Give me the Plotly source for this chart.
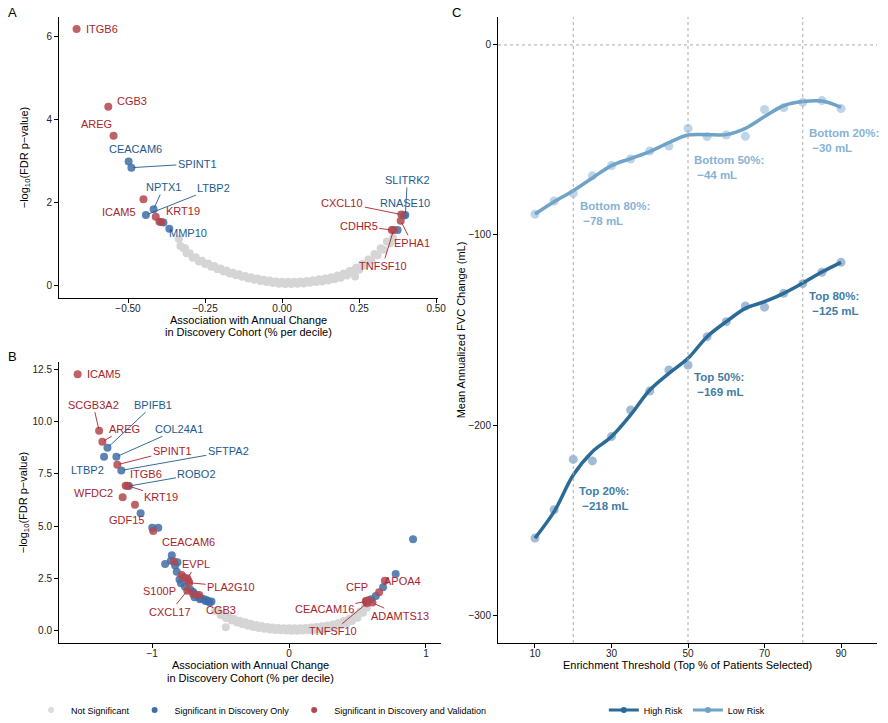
import plotly.graph_objects as go

FONT = "Liberation Sans, Arial, sans-serif"
RED_PT, BLUE_PT, GREY_PT = "#B2474F", "#3E6FA8", "#D5D5D5"
RED_TXT, BLUE_TXT = "#A8242C", "#1E5A8E"

# ---------------- Panel A data ----------------
a_grey_x = [-0.335, -0.33, -0.315, -0.31, -0.29, -0.27, -0.25, -0.23, -0.21, -0.19, -0.17,
            -0.15, -0.13, -0.11, -0.09, -0.07, -0.05, -0.03, -0.01, 0.01, 0.03, 0.05,
            0.07, 0.09, 0.11, 0.13, 0.15, 0.17, 0.19, 0.21, 0.23, 0.25, 0.27, 0.29,
            0.31, 0.33, 0.35, 0.36, 0.237,
            -0.32, -0.30, -0.28, -0.26, -0.24, -0.22, -0.20, -0.18, -0.16, -0.14, -0.12,
            -0.10, -0.08, -0.06, -0.04, -0.02, 0.0, 0.02, 0.04, 0.06, 0.08, 0.10,
            0.12, 0.14, 0.16, 0.18, 0.20, 0.22, 0.24, 0.26, 0.28, 0.30, 0.32, 0.34]
a_grey_y = [1.12, 0.95, 0.90, 0.78, 0.67, 0.58, 0.52, 0.45, 0.39, 0.34, 0.29,
            0.25, 0.21, 0.17, 0.14, 0.11, 0.085, 0.06, 0.045, 0.04, 0.04, 0.045,
            0.05, 0.07, 0.085, 0.10, 0.12, 0.15, 0.19, 0.24, 0.30, 0.38, 0.48, 0.60,
            0.73, 0.86, 1.02, 1.15, 0.22,
            0.90, 0.78, 0.68, 0.60, 0.53, 0.47, 0.41, 0.36, 0.31, 0.27, 0.23,
            0.20, 0.17, 0.14, 0.12, 0.10, 0.09, 0.09, 0.09, 0.10, 0.11, 0.13,
            0.15, 0.17, 0.20, 0.24, 0.29, 0.35, 0.43, 0.52, 0.63, 0.76, 0.90, 1.06]

a_gene = ["ITGB6", "CGB3", "AREG", "CEACAM6", "SPINT1", "ICAM5", "LTBP2", "NPTX1",
          "KRT19", "MMP10", "CXCL10", "SLITRK2", "RNASE10", "EPHA1", "CDHR5", "TNFSF10"]
a_gene_x = [-0.667, -0.564, -0.547, -0.498, -0.489, -0.450, -0.442, -0.417,
            -0.410, -0.366, 0.387, 0.400, 0.395, 0.385, 0.356, 0.362]
a_gene_y = [6.18, 4.31, 3.61, 2.99, 2.84, 2.08, 1.70, 1.84,
            1.66, 1.37, 1.71, 1.70, 1.69, 1.56, 1.34, 1.34]
a_gene_grp = ["val", "val", "val", "disc", "disc", "val", "disc", "disc",
              "val", "disc", "val", "disc", "disc", "val", "val", "val"]
a_other_x = [-0.398, -0.392, -0.385, 0.375]
a_other_y = [1.54, 1.53, 1.52, 1.34]
a_other_grp = ["val", "val", "disc", "disc"]

# ---------------- Panel B data ----------------
b_grey_x = [-0.54, -0.50, -0.46, -0.42, -0.38, -0.34, -0.30, -0.26, -0.22, -0.18, -0.14,
            -0.10, -0.06, -0.02, 0.02, 0.06, 0.10, 0.14, 0.18, 0.22, 0.26, 0.30, 0.34,
            0.38, 0.42, 0.46, 0.50, 0.54, 0.57, -0.462,
            -0.52, -0.48, -0.44, -0.40, -0.36, -0.32, -0.28, -0.24, -0.20, -0.16, -0.12,
            -0.08, -0.04, 0.0, 0.04, 0.08, 0.12, 0.16, 0.20, 0.24, 0.28, 0.32, 0.36,
            0.40, 0.44, 0.48, 0.52, 0.555]
b_grey_y = [0.95, 0.75, 0.60, 0.48, 0.39, 0.31, 0.24, 0.18, 0.13, 0.09, 0.06,
            0.03, 0.02, 0.01, 0.0, 0.0, 0.01, 0.02, 0.04, 0.06, 0.09, 0.13, 0.18,
            0.25, 0.34, 0.46, 0.62, 0.85, 1.10, 0.16,
            0.98, 0.80, 0.66, 0.56, 0.47, 0.40, 0.33, 0.27, 0.22, 0.18, 0.15,
            0.13, 0.12, 0.11, 0.11, 0.12, 0.13, 0.15, 0.18, 0.21, 0.25, 0.30, 0.37,
            0.46, 0.57, 0.72, 0.92, 1.15]

b_gene = ["ICAM5", "SCGB3A2", "AREG", "BPIFB1", "LTBP2", "COL24A1", "SPINT1", "SFTPA2",
          "ITGB6", "ROBO2", "KRT19", "WFDC2", "GDF15", "CEACAM6", "EVPL", "PLA2G10",
          "S100P", "CXCL17", "CGB3", "CFP", "CEACAM16", "ADAMTS13", "TNFSF10", "APOA4"]
b_gene_x = [-1.544, -1.387, -1.363, -1.326, -1.351, -1.261, -1.254, -1.225,
            -1.193, -1.169, -1.180, -1.215, -0.992, -0.840, -0.743, -0.729,
            -0.784, -0.743, -0.656, 0.561, 0.565, 0.609, 0.569, 0.700]
b_gene_y = [12.25, 9.56, 9.03, 8.74, 8.31, 8.31, 7.93, 7.66,
            6.93, 6.91, 6.93, 6.37, 4.76, 3.30, 2.50, 2.29,
            2.66, 1.91, 1.71, 1.42, 1.40, 1.34, 1.31, 2.39]
b_gene_grp = ["val", "val", "val", "disc", "disc", "disc", "val", "disc",
              "val", "disc", "val", "val", "val", "val", "val", "val",
              "val", "val", "val", "val", "val", "val", "val", "val"]
b_other_x = [-1.084, -0.999, -0.955, 0.906, -0.856, -0.863, -0.815, -0.905, -0.832,
             -0.820, -0.789, -0.800, -0.760, -0.720, -0.700, -0.680, -0.660, -0.640,
             -0.620, -0.600, -0.590, -0.580, -0.610, -0.650, -0.690, -0.566,
             0.634, 0.687, 0.779, 0.600,
             -1.125, -0.735, -0.700, -0.770, 0.658, 0.580]
b_other_y = [5.61, 4.92, 4.92, 4.37, 3.60, 3.34, 3.27, 3.19, 3.11,
             2.82, 2.26, 2.45, 2.10, 1.95, 1.85, 1.72, 1.62, 1.55,
             1.50, 1.45, 1.40, 1.35, 1.42, 1.50, 1.60, 1.39,
             1.66, 2.07, 2.71, 1.50,
             6.02, 2.39, 1.75, 2.55, 1.83, 1.45]
b_other_grp = ["disc"] * 30 + ["val"] * 6

# ---------------- Panel C data ----------------
threshold = [10, 15, 20, 25, 30, 35, 40, 45, 50, 55, 60, 65, 70, 75, 80, 85, 90]
high_mean = [-259.5, -244.6, -218.1, -218.9, -206.1, -192.1, -182.1, -171.0, -168.4,
             -153.5, -145.6, -137.4, -138.0, -130.7, -125.6, -119.6, -114.4]
high_fit = [-259.5, -245.6, -226.3, -214.0, -206.1, -194.7, -181.6, -172.8, -164.9,
            -153.5, -145.6, -138.6, -135.1, -130.7, -125.3, -119.5, -114.4]
low_mean = [-89.1, -82.1, -78.1, -68.8, -63.5, -60.0, -55.8, -53.2, -44.0,
            -48.2, -47.4, -48.1, -34.0, -33.0, -30.2, -29.3, -33.5]
low_fit = [-89.0, -82.5, -76.7, -70.0, -63.5, -59.8, -56.1, -51.4, -47.4,
           -47.2, -47.2, -43.9, -37.7, -32.0, -29.8, -29.5, -32.8]
c_labels = ["Bottom 80%:<br> −78 mL", "Bottom 50%:<br> −44 mL", "Bottom 20%:<br> −30 mL",
            "Top 80%:<br> −125 mL", "Top 50%:<br> −169 mL", "Top 20%:<br> −218 mL"]
c_label_x = [21.2, 51.1, 81, 81, 51.1, 21]
c_label_y = [-88.9, -64.7, -50.5, -135.8, -178.8, -238.5]
c_label_grp = ["low", "low", "low", "high", "high", "high"]

# label offsets in px (dx, dy, leader line)
a_off = {"ITGB6": (25, 0, 0), "CGB3": (24, -6, 0), "AREG": (-17, -12, 0),
         "CEACAM6": (7, -12, 0), "SPINT1": (66, -4, 1), "ICAM5": (-24, 13, 0),
         "LTBP2": (68, -27, 1), "NPTX1": (10, -22, 1), "KRT19": (27, -6, 0),
         "MMP10": (19, 4, 0), "CXCL10": (-59, -12, 1), "SLITRK2": (2, -35, 1),
         "RNASE10": (1, -12, 0), "EPHA1": (11, 22, 1), "CDHR5": (-33, -4, 1),
         "TNFSF10": (-11, 36, 1)}
b_off = {"ICAM5": (26, 0, 0), "SCGB3A2": (-6, -26, 1), "AREG": (22, -13, 1),
         "BPIFB1": (46, -43, 1), "LTBP2": (-17, 13, 0), "COL24A1": (63, -28, 1),
         "SPINT1": (55, -14, 1), "SFTPA2": (107, -19, 1), "ITGB6": (20, -12, 0),
         "ROBO2": (68, -12, 1), "KRT19": (34, 11, 1), "WFDC2": (-29, -4, 0),
         "GDF15": (-27, -11, 0), "CEACAM6": (14, -20, 0), "EVPL": (9, -14, 1),
         "PLA2G10": (42, 4, 1), "S100P": (-22, 16, 0), "CXCL17": (-17, 21, 1),
         "CGB3": (22, 15, 0), "CFP": (-9, -14, 0), "CEACAM16": (-42, 8, 1),
         "ADAMTS13": (28, 13, 1), "TNFSF10": (-34, 28, 1), "APOA4": (18, 0, 0)}

fig = go.Figure()
annotations = []


def add_volcano(xa, ya, gx, gy, genes, gxs, gys, grps, ox, oy, ogrps, offs):
    fig.add_trace(go.Scatter(x=gx, y=gy, mode="markers", xaxis=xa, yaxis=ya,
                             marker=dict(color=GREY_PT, size=8), showlegend=False))
    for grp, col in [("disc", BLUE_PT), ("val", RED_PT)]:
        xs = [x for x, g in zip(gxs, grps) if g == grp] + [x for x, g in zip(ox, ogrps) if g == grp]
        ys = [y for y, g in zip(gys, grps) if g == grp] + [y for y, g in zip(oy, ogrps) if g == grp]
        fig.add_trace(go.Scatter(x=xs, y=ys, mode="markers", xaxis=xa, yaxis=ya,
                                 marker=dict(color=col, size=8, opacity=0.85), showlegend=False))
    for g, x, y, grp in zip(genes, gxs, gys, grps):
        dx, dy, line = offs[g]
        col = RED_TXT if grp == "val" else BLUE_TXT
        a = dict(x=x, y=y, xref=xa, yref=ya, text=g, font=dict(size=11, color=col, family=FONT))
        if line:
            a.update(showarrow=True, ax=dx, ay=dy, arrowhead=0, arrowwidth=0.9,
                     arrowcolor=col, standoff=2)
        else:
            a.update(showarrow=False, xshift=dx, yshift=-dy)
        annotations.append(a)


add_volcano("x", "y", a_grey_x, a_grey_y, a_gene, a_gene_x, a_gene_y, a_gene_grp,
            a_other_x, a_other_y, a_other_grp, a_off)
add_volcano("x2", "y2", b_grey_x, b_grey_y, b_gene, b_gene_x, b_gene_y, b_gene_grp,
            b_other_x, b_other_y, b_other_grp, b_off)

# legend entries for the volcano panels (small dots, as in the original key)
for nm, col in [("Not Significant", "#DDDDDD"), ("Significant in Discovery Only", BLUE_PT),
                ("Significant in Discovery and Validation", RED_PT)]:
    fig.add_trace(go.Scatter(x=[None], y=[None], mode="markers", marker=dict(color=col, size=6),
                             name=nm, legend="legend"))

# panel C
HIGH_LINE, LOW_LINE = "#2B6B98", "#6FA4C8"
fig.add_trace(go.Scatter(x=threshold, y=low_mean, mode="markers", xaxis="x3", yaxis="y3",
                         marker=dict(color="#A3C2DE", size=9, opacity=0.7), showlegend=False))
fig.add_trace(go.Scatter(x=threshold, y=high_mean, mode="markers", xaxis="x3", yaxis="y3",
                         marker=dict(color="#7C9EC3", size=9, opacity=0.7), showlegend=False))
fig.add_trace(go.Scatter(x=threshold, y=low_fit, mode="lines", xaxis="x3", yaxis="y3",
                         line=dict(color=LOW_LINE, width=3.5, shape="spline"), showlegend=False))
fig.add_trace(go.Scatter(x=threshold, y=high_fit, mode="lines", xaxis="x3", yaxis="y3",
                         line=dict(color=HIGH_LINE, width=3.5, shape="spline"), showlegend=False))
for nm, col in [("High Risk", HIGH_LINE), ("Low Risk", LOW_LINE)]:
    fig.add_trace(go.Scatter(x=[None], y=[None], mode="lines+markers", xaxis="x3", yaxis="y3",
                             line=dict(color=col, width=3), marker=dict(color=col, size=6),
                             name=nm, legend="legend2"))

for t, x, y, grp in zip(c_labels, c_label_x, c_label_y, c_label_grp):
    annotations.append(dict(x=x, y=y, xref="x3", yref="y3", text="<b>" + t + "</b>",
                            showarrow=False, xanchor="left", yanchor="middle", align="left",
                            font=dict(size=11.5, color="#86B3D5" if grp == "low" else "#3F7DA8",
                                      family=FONT)))

shapes = []
for xv in [20, 50, 80]:
    shapes.append(dict(type="line", xref="x3", yref="y3 domain", x0=xv, x1=xv, y0=0, y1=1,
                       line=dict(color="#AAAAAA", width=1, dash="dot")))
shapes.append(dict(type="line", xref="x3 domain", yref="y3", x0=0, x1=1, y0=0, y1=0,
                   line=dict(color="#AAAAAA", width=1, dash="dot")))

# panel letters and x-axis titles (pixel positions)
for txt, px, py in [("A", 12, 12), ("B", 12, 356), ("C", 456, 12)]:
    annotations.append(dict(x=px / 888, y=1 - py / 723, xref="paper", yref="paper", text=txt,
                            showarrow=False, xanchor="center", yanchor="middle",
                            font=dict(size=13, color="black", family=FONT)))
xt_lines = ["Association with Annual Change", "in Discovery Cohort (% per decile)"]
for cx, ys in [(248.5, (320, 332)), (250, (665, 678))]:
    for line, py in zip(xt_lines, ys):
        annotations.append(dict(x=cx / 888, y=1 - py / 723, xref="paper", yref="paper",
                                text=line, showarrow=False, xanchor="center", yanchor="middle",
                                font=dict(size=11, color="black", family=FONT)))
annotations.append(dict(x=687.5 / 888, y=1 - 665 / 723, xref="paper", yref="paper",
                        text="Enrichment Threshold (Top % of Patients Selected)",
                        showarrow=False, xanchor="center", yanchor="middle",
                        font=dict(size=11, color="black", family=FONT)))

ax_common = dict(showline=True, linecolor="black", linewidth=1, ticks="outside", ticklen=4,
                 tickwidth=1, tickcolor="black", showgrid=False, zeroline=False,
                 automargin=False, tickfont=dict(size=10, color="#222", family=FONT))
xt_common = dict(ax_common, ticklabelstandoff=-3)
ytitle = "−log<sub>10</sub>(FDR p−value)"

fig.update_layout(
    width=888, height=723, margin=dict(l=0, r=0, t=0, b=0, autoexpand=False),
    paper_bgcolor="white", plot_bgcolor="white",
    font=dict(family=FONT, color="black"),
    xaxis=dict(xt_common, domain=[59 / 888, 438 / 888], range=[-0.724, 0.506],
               tickvals=[-0.5, -0.25, 0, 0.25, 0.5], tickformat=".2f", anchor="y"),
    yaxis=dict(ax_common, domain=[1 - 298 / 723, 1 - 17 / 723], range=[-0.3, 6.47],
               tickvals=[0, 2, 4, 6], title=dict(text=ytitle, font=dict(size=11), standoff=15),
               anchor="x"),
    xaxis2=dict(xt_common, domain=[59 / 888, 441 / 888], range=[-1.68, 1.11],
                tickvals=[-1, 0, 1], anchor="y2"),
    yaxis2=dict(ax_common, domain=[1 - 643 / 723, 1 - 362 / 723], range=[-0.59, 12.84],
                tickvals=[0, 2.5, 5, 7.5, 10, 12.5], tickformat=".1f",
                title=dict(text=ytitle, font=dict(size=11), standoff=2), anchor="x2"),
    xaxis3=dict(xt_common, domain=[498 / 888, 877 / 888], range=[0.33, 99.4],
                tickvals=[10, 30, 50, 70, 90], anchor="y3"),
    yaxis3=dict(ax_common, domain=[1 - 643 / 723, 1 - 17 / 723], range=[-314.7, 14.7],
                tickvals=[0, -100, -200, -300],
                title=dict(text="Mean Annualized FVC Change (mL)", font=dict(size=11), standoff=0),
                anchor="x3"),
    legend=dict(orientation="h", x=0.035, y=1 - 710 / 723, xanchor="left", yanchor="middle",
                font=dict(size=9), itemwidth=30, tracegroupgap=0),
    legend2=dict(orientation="h", x=0.68, y=1 - 710 / 723, xanchor="left", yanchor="middle",
                 font=dict(size=9), itemwidth=30),
    annotations=annotations, shapes=shapes,
)

# page body margin off so the figure sits at the window's top-left corner
fig.write_html("out.html", config={"displayModeBar": False},
               post_script="document.body.style.margin='0';")
